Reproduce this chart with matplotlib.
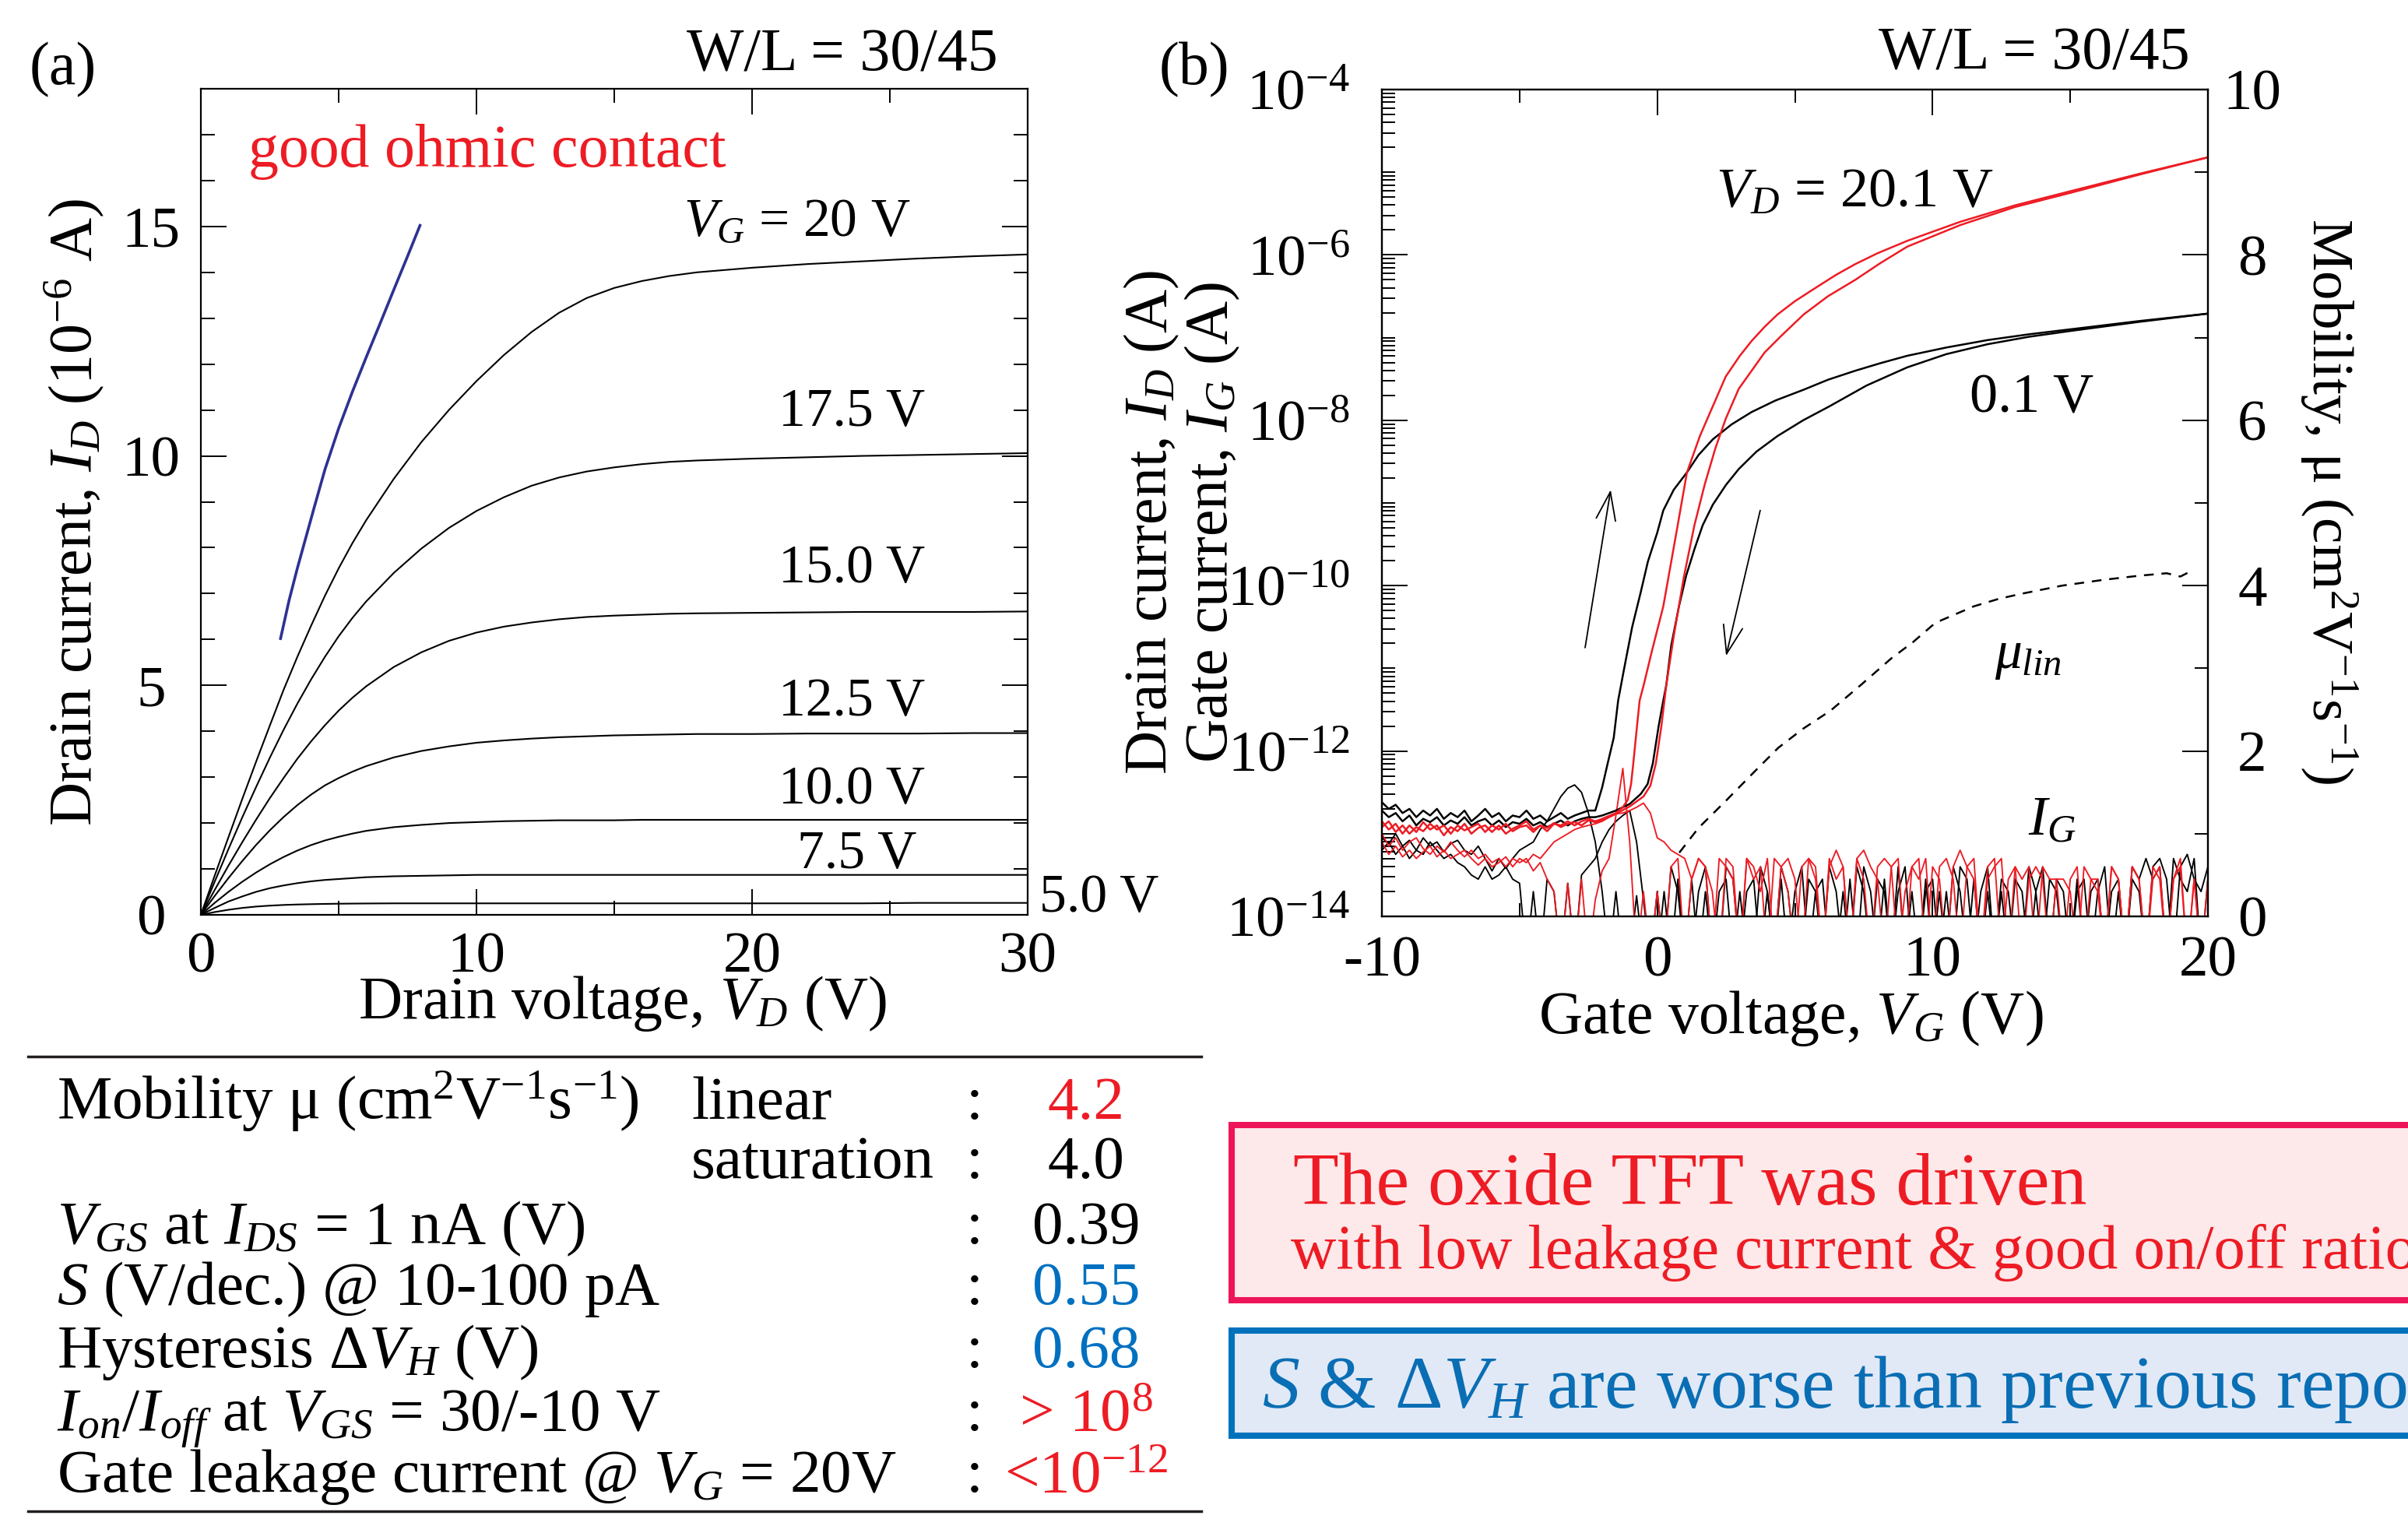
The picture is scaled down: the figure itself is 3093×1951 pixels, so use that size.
import numpy as np
import matplotlib
matplotlib.use('Agg')
import matplotlib.pyplot as plt
from matplotlib.patches import Rectangle
from matplotlib.lines import Line2D
from matplotlib.ticker import FixedLocator, FixedFormatter, MultipleLocator, NullFormatter

plt.rcParams['font.family'] = ['Liberation Serif', 'DejaVu Serif']
plt.rcParams['mathtext.fontset'] = 'custom'
plt.rcParams['mathtext.rm'] = 'Liberation Serif'
plt.rcParams['mathtext.it'] = 'Liberation Serif:italic'
plt.rcParams['mathtext.bf'] = 'Liberation Serif:bold'
plt.rcParams['axes.unicode_minus'] = False

RED = '#ED1C24'
BLUE = '#0070C0'
NAVY = '#2E3192'

# ---------------- panel (a): output curves ----------------
vd = [0, 0.5, 1, 1.5, 2, 2.5, 3, 3.5, 4, 4.5, 5, 5.5, 6, 7, 8, 9, 10, 11, 12, 13, 14, 15, 16, 17, 18, 20, 22, 24, 26, 28, 30]
id_vg20 = [0, 0.85, 1.69, 2.52, 3.33, 4.12, 4.9, 5.62, 6.3, 6.95, 7.55, 8.1, 8.6, 9.5, 10.3, 11.0, 11.63, 12.2, 12.7, 13.12,
           13.44, 13.66, 13.81, 13.92, 14.0, 14.1, 14.18, 14.24, 14.3, 14.35, 14.39]
id_vg175 = [0, 0.72, 1.43, 2.12, 2.78, 3.42, 4.03, 4.6, 5.13, 5.62, 6.07, 6.47, 6.83, 7.45, 7.98, 8.43, 8.8, 9.1, 9.35, 9.53,
            9.66, 9.75, 9.82, 9.87, 9.9, 9.94, 9.97, 10.0, 10.02, 10.04, 10.06]
id_vg15 = [0, 0.54, 1.07, 1.58, 2.07, 2.54, 2.98, 3.4, 3.78, 4.13, 4.45, 4.73, 4.98, 5.4, 5.72, 5.97, 6.15, 6.28, 6.37, 6.44,
           6.49, 6.52, 6.54, 6.56, 6.57, 6.58, 6.59, 6.6, 6.6, 6.6, 6.61]
id_vg125 = [0, 0.41, 0.8, 1.17, 1.52, 1.84, 2.13, 2.39, 2.62, 2.82, 2.98, 3.12, 3.24, 3.43, 3.57, 3.67, 3.75, 3.8, 3.84, 3.87,
            3.89, 3.91, 3.92, 3.93, 3.94, 3.94, 3.95, 3.95, 3.95, 3.96, 3.96]
id_vg10 = [0, 0.26, 0.5, 0.72, 0.92, 1.1, 1.26, 1.4, 1.52, 1.62, 1.7, 1.77, 1.83, 1.91, 1.96, 2.0, 2.02, 2.04, 2.05, 2.06,
           2.06, 2.06, 2.07, 2.07, 2.07, 2.07, 2.07, 2.07, 2.07, 2.07, 2.07]
id_vg75 = [0, 0.15, 0.29, 0.4, 0.5, 0.58, 0.64, 0.69, 0.73, 0.76, 0.78, 0.8, 0.82, 0.84, 0.85, 0.86, 0.87, 0.87, 0.87, 0.87,
           0.87, 0.87, 0.87, 0.87, 0.87, 0.87, 0.87, 0.87, 0.87, 0.87, 0.87]
id_vg5 = [0, 0.06, 0.11, 0.15, 0.18, 0.2, 0.215, 0.225, 0.232, 0.238, 0.242, 0.245, 0.247, 0.25, 0.25, 0.25, 0.25, 0.25,
          0.25, 0.25, 0.25, 0.25, 0.25, 0.25, 0.25, 0.25, 0.25, 0.25, 0.26, 0.26, 0.26]
output_curves = [id_vg20, id_vg175, id_vg15, id_vg125, id_vg10, id_vg75, id_vg5]
vg_labels_a = [r'$V_G$ = 20 V', '17.5 V', '15.0 V', '12.5 V', '10.0 V', '7.5 V', '5.0 V']
vg_label_pos = [(17.5, 14.8), (20.96, 10.66), (20.96, 7.25), (20.96, 4.35), (20.96, 2.43), (21.64, 1.02), (30.42, 0.07)]
vd_blue = [2.88, 3.2, 3.5, 3.8, 4.1, 4.5, 5.0, 5.5, 6.0, 6.5, 7.0, 7.5, 7.97]
id_blue = [5.99, 6.85, 7.55, 8.2, 8.85, 9.7, 10.6, 11.4, 12.15, 12.88, 13.62, 14.35, 15.05]

# ---------------- panel (b): transfer curves (log10 A) ----------------
vg_off = np.arange(-10, -2.49, 0.25)
bL_off = [-12.62, -12.7, -12.65, -12.75, -12.7, -12.8, -12.72, -12.78, -12.7, -12.82, -12.75, -12.8, -12.72, -12.85, -12.78, -12.7,
          -12.8, -12.75, -12.85, -12.78, -12.8, -12.72, -12.82, -12.78, -12.85, -12.8, -12.75, -12.82, -12.78, -12.75, -12.72]
bR_off = [-12.72, -12.8, -12.75, -12.85, -12.78, -12.9, -12.82, -12.86, -12.8, -12.9, -12.84, -12.88, -12.8, -12.9, -12.85, -12.82,
          -12.9, -12.84, -12.92, -12.86, -12.88, -12.82, -12.9, -12.86, -12.92, -12.88, -12.84, -12.9, -12.85, -12.82, -12.8]
rL_off = [-12.85, -12.95, -12.88, -13.0, -12.9, -12.98, -12.86, -12.95, -12.9, -13.02, -12.92, -12.97, -12.88, -13.0, -12.93, -12.9,
          -12.98, -12.9, -13.0, -12.94, -12.9, -12.85, -12.95, -12.9, -12.97, -12.88, -12.9, -12.85, -12.9, -12.85, -12.82]
rR_off = [-12.92, -12.85, -12.98, -12.9, -13.0, -12.92, -12.97, -12.88, -12.95, -12.9, -13.0, -12.9, -12.96, -12.92, -12.88, -12.98,
          -12.9, -12.95, -12.88, -12.97, -12.92, -12.9, -12.98, -12.9, -12.93, -12.87, -12.92, -12.88, -12.86, -12.9, -12.84]

bL_vg = [-2.25, -2.0, -1.8, -1.58, -1.42, -1.2, -0.91, -0.6, -0.34, 0.0, 0.22, 0.6, 1.08, 1.5, 2.02, 2.7, 3.43, 4.3, 5.32, 6.2,
         7.2, 8.1, 9.08, 10.5, 12, 13.5, 15, 17.5, 20]
bL_log = [-12.72, -12.44, -12.15, -11.84, -11.39, -11.0, -10.5, -10.08, -9.71, -9.36, -9.09, -8.84, -8.63, -8.42, -8.23, -8.05,
          -7.90, -7.76, -7.63, -7.51, -7.40, -7.31, -7.22, -7.12, -7.03, -6.96, -6.90, -6.80, -6.71]
bR_vg = [-2.25, -2.0, -1.5, -1.0, -0.6, -0.35, -0.16, 0.05, 0.22, 0.33, 0.51, 0.79, 1.05, 1.35, 1.65, 2.02, 2.5, 2.96, 3.6, 4.37,
         5.3, 6.26, 7.6, 9.08, 10.5, 12, 13.5, 15, 17.5, 20]
bR_log = [-12.8, -12.78, -12.72, -12.64, -12.52, -12.4, -12.15, -11.7, -11.39, -11.2, -10.72, -10.25, -9.88, -9.56, -9.27, -9.02,
          -8.78, -8.59, -8.38, -8.19, -8.0, -7.83, -7.58, -7.36, -7.2, -7.08, -6.99, -6.92, -6.81, -6.71]
rL_vg = [-2.25, -2.0, -1.5, -1.25, -1.07, -0.95, -0.87, -0.75, -0.64, -0.49, -0.2, 0.22, 0.7, 1.08, 1.55, 2.11, 2.49, 3.0, 3.43,
         3.9, 4.37, 5.0, 5.79, 6.5, 7.2, 8.0, 9.08, 11, 13, 15, 17.5, 20]
rL_log = [-12.85, -12.82, -12.75, -12.68, -12.59, -12.4, -12.15, -11.75, -11.39, -11.2, -10.8, -10.25, -9.35, -8.63, -8.19, -7.76,
          -7.47, -7.22, -7.04, -6.87, -6.72, -6.56, -6.39, -6.24, -6.11, -5.98, -5.83, -5.6, -5.4, -5.23, -5.02, -4.82]
rR_vg = [-2.25, -2.0, -1.5, -1.0, -0.5, -0.25, -0.05, 0.15, 0.33, 0.6, 0.97, 1.35, 1.73, 2.11, 2.49, 2.96, 3.9, 4.5, 5.32, 6.2,
         7.2, 8.1, 9.08, 11, 13, 15, 17.5, 20]
rR_log = [-12.86, -12.84, -12.76, -12.67, -12.55, -12.42, -12.15, -11.7, -11.2, -10.61, -9.89, -9.27, -8.77, -8.34, -7.98, -7.62,
          -7.18, -6.98, -6.72, -6.5, -6.3, -6.1, -5.9, -5.64, -5.42, -5.25, -5.03, -4.82]

# gate leakage traces (log10 A), VG = -10 ... 20 in 0.25 V steps
vg_ig = np.arange(-10, 20.001, 0.25)
bG1 = ([-13.05, -13.12, -13.0, -13.15, -13.08, -13.2, -13.05, -13.15, -13.1, -13.22, -13.12, -13.08, -13.2, -13.25, -13.15, -13.3, -13.45]
       + [-13.3, -13.42, -13.3, -13.2, -13.15, -13.1, -12.95, -12.85, -12.7, -12.55, -12.45, -12.41, -12.5, -12.75, -13.1, -13.7,
          -14.5, -13.7, -14.5, -14.5, -13.75, -14.5, -14.5]
       + [-14.5, -13.7, -14.5, -13.55, -14.5, -14.5, -13.7, -13.4, -14.5, -13.7,
          -13.55, -14.5, -13.7, -14.5, -14.5, -13.4, -13.7, -14.5, -13.55, -14.5,
          -13.7, -13.4, -14.5, -13.7, -13.55, -14.5, -14.5, -13.7, -14.5, -13.4,
          -13.7, -14.5, -13.55, -13.7, -14.5, -13.4, -14.5, -13.7, -14.5, -13.55,
          -14.5, -13.7, -14.5, -13.4, -13.7, -14.5, -13.55, -14.5, -13.7, -14.5,
          -13.55, -13.7, -14.5, -14.5, -13.4, -13.7, -14.5, -13.55, -13.7, -14.5,
          -14.5, -13.7, -13.55, -14.5, -13.7, -13.4, -14.5, -13.7, -14.5, -13.55,
          -13.7, -14.5, -13.4, -13.3, -13.55, -14.5, -13.4, -13.25, -13.55, -13.7, -13.4])
bG2 = ([-13.2, -13.1, -13.25, -13.15, -13.3, -13.2, -13.25, -13.1, -13.2, -13.3, -13.25, -13.35, -13.4, -13.5, -13.55, -13.4, -13.55]
       + [-13.5, -13.4, -13.55, -13.6, -14.5, -13.7, -14.5, -13.55, -13.7, -14.5, -13.6, -14.5, -13.5, -13.4, -13.3, -13.1, -12.95,
          -12.85, -12.78, -12.72, -13.1, -13.8, -14.5]
       + [-13.7, -14.5, -13.4, -13.7, -14.5, -13.55, -14.5, -13.7, -14.5, -14.5,
          -13.4, -13.55, -14.5, -13.7, -13.55, -14.5, -13.7, -14.5, -13.4, -13.7,
          -14.5, -14.5, -13.55, -13.7, -14.5, -13.4, -13.7, -14.5, -13.55, -14.5,
          -13.4, -13.7, -14.5, -13.55, -14.5, -13.7, -13.4, -14.5, -14.5, -13.7,
          -13.55, -14.5, -13.7, -14.5, -13.4, -13.55, -14.5, -13.7, -13.4, -14.5,
          -13.7, -14.5, -13.55, -13.7, -14.5, -13.7, -13.4, -14.5, -13.55, -13.7,
          -14.5, -13.55, -14.5, -13.7, -13.55, -14.5, -13.7, -13.55, -14.5, -13.4,
          -13.55, -13.3, -13.55, -13.4, -14.5, -13.3, -13.55, -13.7, -13.3, -14.5, -13.55])
rG1 = ([-13.0, -13.15, -13.05, -13.2, -13.1, -13.05, -13.18, -13.25, -13.15, -13.22, -13.1, -13.2, -13.28, -13.2, -13.3, -13.25, -13.35]
       + [-13.3, -13.4, -13.3, -13.35, -13.3, -13.45, -13.35, -13.55, -13.7, -14.5, -13.6, -14.5, -13.55, -14.5, -13.8, -13.45,
          -13.3, -12.78, -12.21, -13.1, -14.5, -13.7, -14.5]
       + [-13.7, -14.5, -13.4, -13.3, -14.5, -13.55, -13.3, -13.4, -13.7, -14.5,
          -13.3, -13.4, -14.5, -13.3, -13.55, -13.4, -14.5, -13.3, -13.4, -13.7,
          -14.5, -13.4, -13.3, -13.55, -14.5, -13.4, -13.2, -13.4, -14.5, -13.3,
          -13.55, -14.5, -13.4, -13.3, -13.4, -14.5, -13.7, -13.4, -13.3, -14.5,
          -13.4, -13.55, -14.5, -13.4, -13.2, -13.4, -13.55, -14.5, -13.4, -13.3,
          -14.5, -13.55, -13.4, -14.5, -13.55, -13.4, -13.55, -14.5, -13.55, -13.55,
          -13.7, -14.5, -13.4, -13.55, -13.55, -14.5, -13.4, -13.55, -14.5, -13.4,
          -13.55, -14.5, -13.55, -13.4, -14.5, -13.55, -13.3, -14.5, -13.55, -14.5, -13.55])
rG2 = ([-13.1, -13.25, -13.15, -13.28, -13.2, -13.3, -13.22, -13.15, -13.28, -13.2, -13.3, -13.25, -13.2, -13.3, -13.38, -13.3, -13.4]
       + [-13.35, -13.28, -13.4, -13.3, -13.35, -13.25, -13.3, -13.2, -13.1, -13.05, -13.0, -12.95, -12.92, -12.9, -12.88, -12.85,
          -12.8, -12.76, -12.75, -12.72, -12.68, -12.63, -12.75]
       + [-13.05, -13.1, -13.2, -13.25, -13.3]
       + [-13.55, -13.3, -13.4, -14.5, -13.3, -13.4, -13.55, -14.5, -13.3, -13.4,
          -13.7, -13.3, -14.5, -13.4, -13.3, -13.55, -14.5, -13.3, -13.4, -14.5,
          -13.3, -13.55, -13.4, -14.5, -13.3, -13.2, -13.4, -13.55, -14.5, -13.4,
          -13.3, -14.5, -13.4, -13.55, -13.3, -14.5, -13.4, -13.3, -13.55, -14.5,
          -13.4, -13.3, -14.5, -13.55, -13.4, -13.3, -14.5, -13.4, -13.55, -13.4,
          -14.5, -13.4, -13.55, -13.55, -14.5, -13.55, -13.4, -14.5, -13.55, -13.7,
          -14.5, -13.4, -13.55, -14.5, -13.4, -13.55, -14.5, -13.4, -13.55, -14.5,
          -13.55, -13.4, -14.5, -13.55, -14.5, -14.5])

# linear mobility (cm2/Vs)
vg_mu = [0.8, 1.5, 2.5, 3.5, 4.4, 5.3, 6.3, 7.4, 8.5, 9.3, 10.1, 11.5, 12.4, 13.2, 14.7, 16.2, 17.5, 18.5, 19.0, 19.35]
mu_lin = [0.77, 1.07, 1.40, 1.74, 2.04, 2.27, 2.49, 2.80, 3.12, 3.32, 3.55, 3.75, 3.84, 3.9, 4.0, 4.07, 4.12, 4.15, 4.11, 4.17]

arrow_up = [(-2.62, -10.75), (-1.69, -8.84)]
arrow_down = [(3.74, -9.09), (2.5, -10.85)]

# ---------------- table / boxes ----------------
table_left = ['Mobility μ (cm$^2$V$^{-1}$s$^{-1}$)', '', '$V_{GS}$ at $I_{DS}$ = 1 nA (V)', '$S$ (V/dec.) @ 10-100 pA',
              'Hysteresis Δ$V_H$ (V)', '$I_{on}$/$I_{off}$ at $V_{GS}$ = 30/-10 V', 'Gate leakage current @ $V_G$ = 20V']
table_mid = ['linear', 'saturation', '', '', '', '', '']
table_val = ['4.2', '4.0', '0.39', '0.55', '0.68', '> 10$^8$', '<10$^{-12}$']
table_col = [RED, 'black', 'black', BLUE, BLUE, RED, RED]
table_base = [1437, 1513, 1597, 1675, 1756, 1837, 1916]

W, H = 3093, 1951
fig = plt.figure(figsize=(W / 100, H / 100), dpi=100)


def fx(x):
    return x / W


def fy(y):
    return 1 - y / H


FS = 54
TFS = 57
LW_SP = 1.6

# ---------- panel (a)
axa = fig.add_axes([fx(258), fy(1175), (1320 - 258) / W, (1175 - 114) / H])
for ys in output_curves:
    axa.plot(vd, ys, color='black', lw=1.5)
axa.plot(vd_blue, id_blue, color=NAVY, lw=2.6, solid_capstyle='butt')
axa.set_xlim(0, 30)
axa.set_ylim(0, 18)
axa.xaxis.set_major_locator(FixedLocator([0, 10, 20, 30]))
axa.xaxis.set_minor_locator(FixedLocator([5, 15, 25]))
axa.yaxis.set_major_locator(FixedLocator([0, 5, 10, 15]))
axa.yaxis.set_minor_locator(MultipleLocator(1))
axa.tick_params(which='both', direction='in', top=True, right=True, width=1.4)
axa.tick_params(which='major', length=24)
axa.tick_params(which='minor', length=13)
axa.tick_params(axis='x', labelsize=FS, pad=16)
axa.tick_params(axis='y', labelsize=FS, pad=46)
for lbl in axa.get_yticklabels():
    lbl.set_horizontalalignment('center')
for s in axa.spines.values():
    s.set_linewidth(LW_SP)
for lab, (x, y) in zip(vg_labels_a, vg_label_pos):
    axa.text(x, y, lab, fontsize=50, ha='left', va='baseline', clip_on=False)
axa.text(1.72, 16.3, 'good ohmic contact', color=RED, fontsize=56, ha='left', va='baseline')
axa.text(0.51, -0.125, 'Drain voltage, $V_D$ (V)', transform=axa.transAxes, fontsize=56, ha='center', va='baseline')
axa.text(-0.153, 0.487, 'Drain current, $I_D$ ($10^{-6}$ A)', transform=axa.transAxes, fontsize=56, ha='center', va='center',
         rotation=90)

# ---------- panel (b)
axb = fig.add_axes([fx(1775), fy(1177), (2836 - 1775) / W, (1177 - 115) / H])
for tr, c in ((bG1, 'black'), (bG2, 'black'), (rG1, RED), (rG2, RED)):
    axb.plot(vg_ig, 10.0 ** np.array(tr), color=c, lw=1.35)
for off, vgs, lg, c in ((bL_off, bL_vg, bL_log, 'black'), (bR_off, bR_vg, bR_log, 'black'),
                        (rL_off, rL_vg, rL_log, RED), (rR_off, rR_vg, rR_log, RED)):
    xx = np.concatenate([vg_off, vgs])
    yy = 10.0 ** np.concatenate([off, lg])
    axb.plot(xx, yy, color=c, lw=1.8)
axb.set_yscale('log')
axb.set_xlim(-10, 20)
axb.set_ylim(1e-14, 1e-4)
maj = [10.0 ** e for e in range(-14, -3, 2)]
mino = []
for e in range(-14, -4):
    for k in range(1, 10):
        v = k * 10.0 ** e
        if not (k == 1 and e % 2 == 0):
            mino.append(v)
axb.yaxis.set_major_locator(FixedLocator(maj))
axb.yaxis.set_major_formatter(FixedFormatter([r'$10^{%d}$' % e for e in range(-14, -3, 2)]))
axb.yaxis.set_minor_locator(FixedLocator(mino))
axb.yaxis.set_minor_formatter(NullFormatter())
axb.xaxis.set_major_locator(FixedLocator([-10, 0, 10, 20]))
axb.xaxis.set_minor_locator(FixedLocator([-5, 5, 15]))
axb.tick_params(which='both', direction='in', top=True, right=False, width=1.4)
axb.tick_params(which='major', length=24)
axb.tick_params(which='minor', length=12)
axb.tick_params(axis='x', labelsize=FS, pad=18)
axb.tick_params(axis='y', labelsize=FS, pad=30)
for s in axb.spines.values():
    s.set_linewidth(LW_SP)

for (p0, p1) in (arrow_up, arrow_down):
    axb.annotate('', xy=(p1[0], 10.0 ** p1[1]), xytext=(p0[0], 10.0 ** p0[1]),
                 arrowprops=dict(arrowstyle='->,head_length=1.3,head_width=0.45', lw=1.3, color='black',
                                 shrinkA=0, shrinkB=0, mutation_scale=20))

axb.text(2.13, 10 ** -5.41, '$V_D$ = 20.1 V', fontsize=52, ha='left', va='baseline')
axb.text(11.35, 10 ** -7.9, '0.1 V', fontsize=52, ha='left', va='baseline')
axb.text(12.25, 10 ** -11.0, r'$\mu_{lin}$', fontsize=50, ha='left', va='baseline')
axb.text(13.47, 10 ** -13.02, '$I_G$', fontsize=52, ha='left', va='baseline')
axb.text(0.495, -0.141, 'Gate voltage, $V_G$ (V)', transform=axb.transAxes, fontsize=56, ha='center', va='baseline')
axb.text(-0.242, 0.477, 'Drain current, $I_D$ (A)\nGate current, $I_G$ (A)', transform=axb.transAxes, fontsize=56,
         ha='center', va='center', rotation=90, linespacing=1.05)

ax2 = axb.twinx()
ln, = ax2.plot(vg_mu, mu_lin, color='black', lw=1.8)
ln.set_dashes((5, 4))
ax2.set_ylim(0, 10)
ax2.yaxis.set_major_locator(FixedLocator([0, 2, 4, 6, 8, 10]))
ax2.yaxis.set_minor_locator(FixedLocator([1, 3, 5, 7, 9]))
ax2.tick_params(which='both', direction='in', width=1.4)
ax2.tick_params(which='major', length=24)
ax2.tick_params(which='minor', length=12)
ax2.tick_params(axis='y', labelsize=FS, pad=41)
for lbl in ax2.get_yticklabels():
    lbl.set_horizontalalignment('center')
for s in ax2.spines.values():
    s.set_linewidth(LW_SP)
ax2.text(1.146, 0.502, 'Mobility, μ (cm$^2$V$^{-1}$s$^{-1}$)', transform=axb.transAxes, fontsize=54, ha='center',
         va='center', rotation=-90)

# ---------- figure texts
fig.text(fx(38), fy(108), '(a)', fontsize=56, ha='left', va='baseline')
fig.text(fx(1489), fy(108), '(b)', fontsize=56, ha='left', va='baseline')
fig.text(fx(1282), fy(91), 'W/L = 30/45', fontsize=56, ha='right', va='baseline')
fig.text(fx(2813), fy(89), 'W/L = 30/45', fontsize=56, ha='right', va='baseline')

# ---------- table
fig.add_artist(Line2D([fx(36), fx(1543)], [fy(1357), fy(1357)], color='#231F20', lw=2.5))
fig.add_artist(Line2D([fx(36), fx(1543)], [fy(1941), fy(1941)], color='#231F20', lw=2.5))
for lt, mt, vt, col, yb in zip(table_left, table_mid, table_val, table_col, table_base):
    if lt:
        fig.text(fx(73), fy(yb), lt, fontsize=TFS, ha='left', va='baseline')
    if mt:
        fig.text(fx(888), fy(yb), mt, fontsize=TFS, ha='left', va='baseline')
    fig.text(fx(1252), fy(yb), ':', fontsize=TFS, ha='center', va='baseline')
    fig.text(fx(1395), fy(yb), vt, fontsize=TFS, ha='center', va='baseline', color=col)

# ---------- boxes
fig.add_artist(Rectangle((fx(1582), fy(1670)), fx(3200 - 1582), (1670 - 1445) / H, transform=fig.transFigure,
                         facecolor='#FDE8EA', edgecolor='#EE145A', lw=5.8, clip_on=False))
fig.add_artist(Rectangle((fx(1582), fy(1844)), fx(3200 - 1582), (1844 - 1709) / H, transform=fig.transFigure,
                         facecolor='#E1E9F6', edgecolor='#0072BC', lw=5.8, clip_on=False))
fig.text(fx(1661), fy(1547), 'The oxide TFT was driven', fontsize=69, color=RED, ha='left', va='baseline')
fig.text(fx(1658), fy(1629), 'with low leakage current & good on/off ratio', fontsize=58, color=RED, ha='left',
         va='baseline')
fig.text(fx(1621), fy(1808), '$S$ & Δ$V_H$ are worse than previous reports', fontsize=69, color='#0A6EB4', ha='left',
         va='baseline')

fig.savefig('out.png', dpi=100)
